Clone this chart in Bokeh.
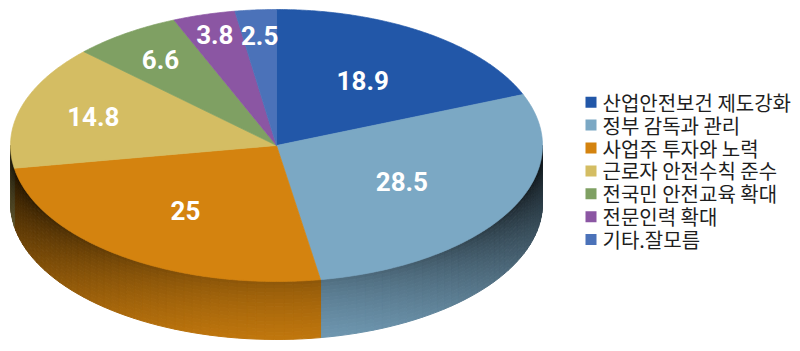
import numpy as np
from bokeh.plotting import figure
from bokeh.models import ColumnDataSource, Range1d
from bokeh.embed import file_html
from bokeh.resources import INLINE
from bokeh.core.properties import value

# ---- data ----
categories = ["산업안전보건 제도강화", "정부 감독과 관리", "사업주 투자와 노력",
              "근로자 안전수칙 준수", "전국민 안전교육 확대", "전문인력 확대", "기타.잘모름"]
values = [18.9, 28.5, 25, 14.8, 6.6, 3.8, 2.5]
labels = ["18.9", "28.5", "25", "14.8", "6.6", "3.8", "2.5"]
colors = ["#2257A8", "#7BA8C4", "#D4830F", "#D4BD63", "#7FA063", "#8B56A3", "#4B72B9"]

# ---- layout / style ----
CX, CY, A, B, DEPTH = 276, 145, 266, 136, 58
label_r = [0.58, 0.54, 0.59, 0.72, 0.77, 0.85, 0.81]
LABEL_FONT = "Roboto"
LEGEND_FONT = "Noto Sans CJK KR"
LEG_SQ_X, LEG_TXT_X, LEG_Y0, LEG_DY, LEG_SQ = 590.5, 602, 101.7, 22.9, 11


def hex_rgb(h):
    h = h.lstrip("#")
    return np.array([int(h[i:i + 2], 16) for i in (0, 2, 4)], dtype=float)


def rgb_hex(c):
    c = np.clip(c, 0, 255).astype(int)
    return "#%02x%02x%02x" % tuple(c)


def ell(theta_deg, r=1.0, dy=0.0):
    t = np.radians(theta_deg)
    return CX + A * r * np.sin(t), CY - B * r * np.cos(t) + dy


total = float(sum(values))
cum = np.concatenate([[0.0], np.cumsum(values)]) / total * 360.0
starts, ends = cum[:-1], cum[1:]

p = figure(width=800, height=351, output_backend="svg", toolbar_location=None,
           x_range=Range1d(0, 800), y_range=Range1d(351, 0),
           min_border=0, outline_line_color=None)
p.axis.visible = False
p.grid.visible = False
p.background_fill_color = "white"
p.border_fill_color = "white"

# ---- side (shaded) ----
NB = 16
sx, sy, sc = [], [], []
for i in range(len(values)):
    s, e = max(starts[i], 90.0), min(ends[i], 270.0)
    if s >= e:
        continue
    base = hex_rgb(colors[i])
    n = max(1, int(np.ceil((e - s) / 2.0)))
    th = np.linspace(s, e, n + 1)
    for j in range(n):
        tm = 0.5 * (th[j] + th[j + 1])
        w = max(0.0, -np.cos(np.radians(tm)))
        ftop = 0.06 + 0.6 * w ** 1.5
        fbot = 0.36 + 0.55 * w
        for k in range(NB):
            d0, d1 = DEPTH * k / NB, DEPTH * (k + 1) / NB
            x0, y0 = ell(th[j], 1.0, d0)
            x1, y1 = ell(th[j + 1], 1.0, d0)
            x2, y2 = ell(th[j + 1], 1.0, d1)
            x3, y3 = ell(th[j], 1.0, d1)
            tt = (k + 0.5) / NB
            f = ftop + (fbot - ftop) * tt ** 0.7
            col = rgb_hex(base * f)
            sx.append([x0, x1, x2, x3])
            sy.append([y0, y1, y2, y3])
            sc.append(col)

p.patches(sx, sy, fill_color=sc, line_color=sc, line_width=1)

# ---- top faces ----
txs, tys = [], []
for i in range(len(values)):
    th = np.linspace(starts[i], ends[i], max(2, int((ends[i] - starts[i]) / 0.5) + 1))
    ax, ay = ell(th)
    txs.append([CX] + list(ax))
    tys.append([CY] + list(ay))
top_src = ColumnDataSource(dict(xs=txs, ys=tys, color=colors, name=categories))
p.patches("xs", "ys", source=top_src, fill_color="color", line_color="color", line_width=0.7)

# ---- labels ----
mids = 0.5 * (starts + ends)
lx, ly = [], []
for i in range(len(values)):
    x, y = ell(mids[i], label_r[i])
    lx.append(x)
    ly.append(y)
p.text(lx, ly, text=labels, text_align="center", text_baseline="middle",
       text_color="white", text_font=value(LABEL_FONT), text_font_size="26px",
       text_font_style="bold")

# ---- legend (drawn as swatches + labels) ----
ly_leg = [LEG_Y0 + i * LEG_DY for i in range(len(categories))]
leg_src = ColumnDataSource(dict(
    sqx=[LEG_SQ_X] * len(categories), tx=[LEG_TXT_X] * len(categories),
    y=ly_leg, color=colors, label=categories))
p.scatter("sqx", "y", source=leg_src, marker="square", size=LEG_SQ,
          fill_color="color", line_color=None)
p.text("tx", "y", text="label", source=leg_src, text_align="left",
       text_baseline="middle", text_color="#1e1e1e",
       text_font=value(LEGEND_FONT), text_font_size="20px")

open("out.html", "w").write(file_html(p, INLINE))
